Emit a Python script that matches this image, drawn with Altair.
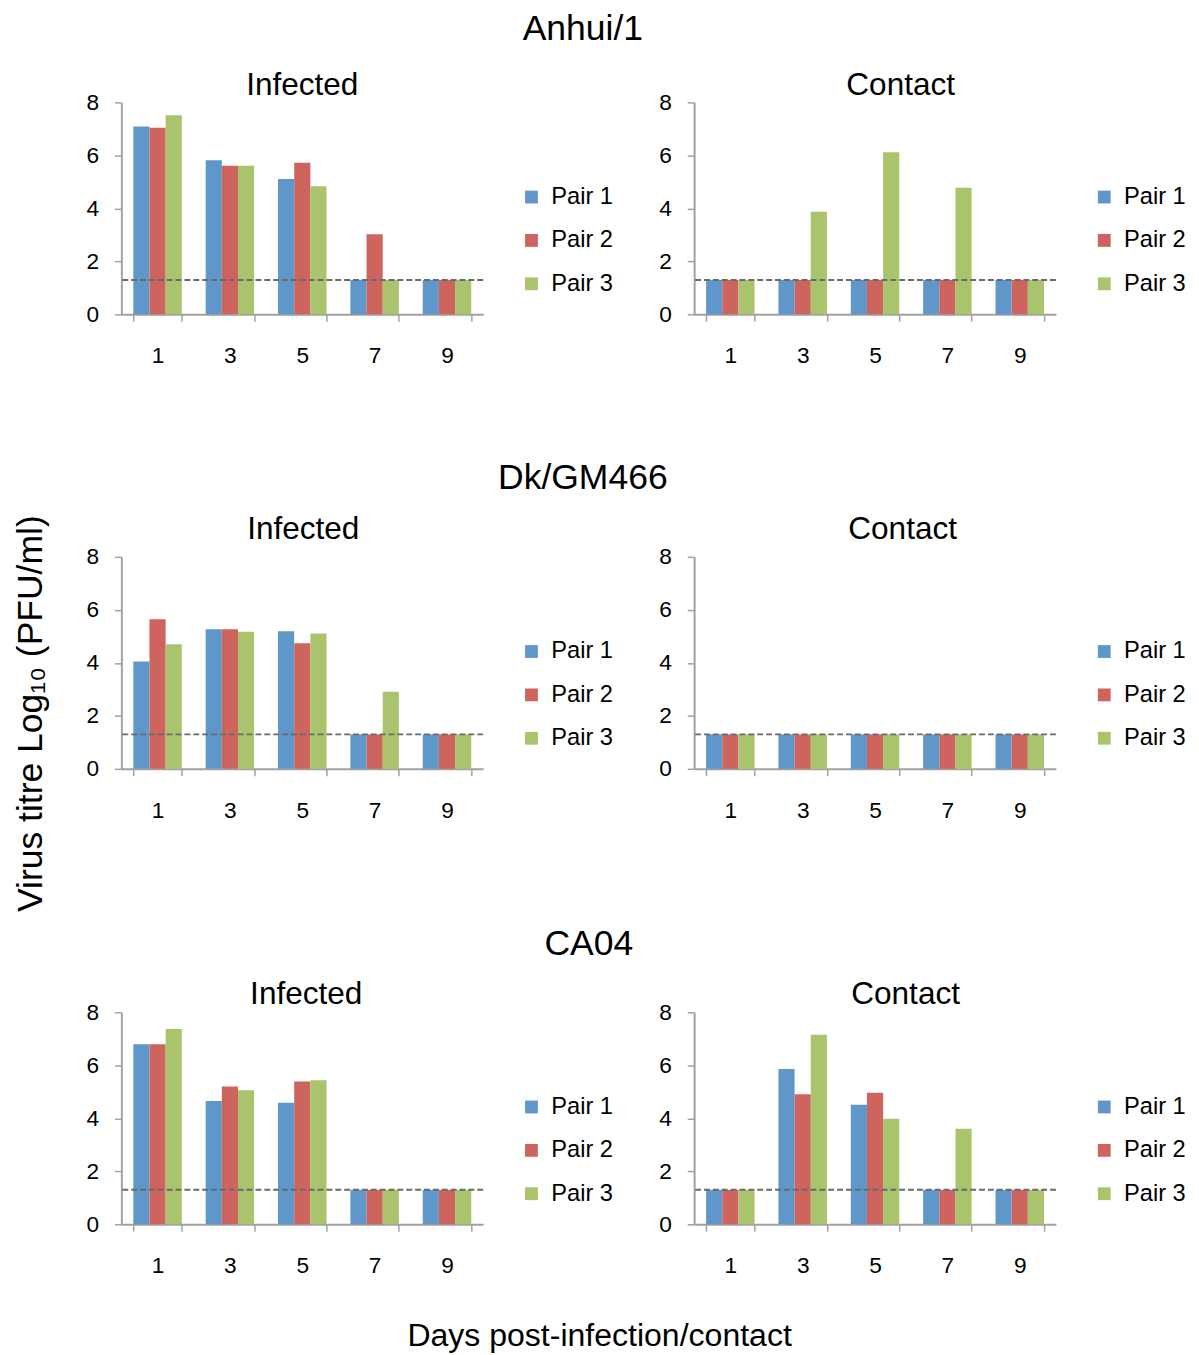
import altair as alt
import pandas as pd

days = [1, 3, 5, 7, 9]
pairs = ["Pair 1", "Pair 2", "Pair 3"]
colors = ["#6097CB", "#CE645E", "#A9C46C"]
detection_limit = 1.3

anhui_infected = {
    "Pair 1": [7.09, 5.82, 5.11, 1.3, 1.3],
    "Pair 2": [7.04, 5.61, 5.72, 3.02, 1.3],
    "Pair 3": [7.52, 5.61, 4.84, 1.3, 1.3],
}
anhui_contact = {
    "Pair 1": [1.3, 1.3, 1.3, 1.3, 1.3],
    "Pair 2": [1.3, 1.3, 1.3, 1.3, 1.3],
    "Pair 3": [1.3, 3.87, 6.12, 4.78, 1.3],
}
dk_infected = {
    "Pair 1": [4.05, 5.27, 5.19, 1.3, 1.3],
    "Pair 2": [5.65, 5.27, 4.74, 1.3, 1.3],
    "Pair 3": [4.70, 5.17, 5.11, 2.91, 1.3],
}
dk_contact = {
    "Pair 1": [1.3, 1.3, 1.3, 1.3, 1.3],
    "Pair 2": [1.3, 1.3, 1.3, 1.3, 1.3],
    "Pair 3": [1.3, 1.3, 1.3, 1.3, 1.3],
}
ca_infected = {
    "Pair 1": [6.80, 4.65, 4.59, 1.3, 1.3],
    "Pair 2": [6.80, 5.20, 5.39, 1.3, 1.3],
    "Pair 3": [7.37, 5.06, 5.44, 1.3, 1.3],
}
ca_contact = {
    "Pair 1": [1.3, 5.86, 4.51, 1.3, 1.3],
    "Pair 2": [1.3, 4.91, 4.96, 1.3, 1.3],
    "Pair 3": [1.3, 7.15, 3.98, 3.61, 1.3],
}

FONT = "Liberation Sans"
PW, PH = 367, 215


def to_df(d):
    rows = []
    for p in pairs:
        for day, v in zip(days, d[p]):
            rows.append({"day": str(day), "pair": p, "titre": v})
    return pd.DataFrame(rows)


def panel(d, title, dx, dy):
    df = to_df(d)
    bars = alt.Chart(df).mark_bar().encode(
        x=alt.X("day:N", sort=[str(x) for x in days],
                scale=alt.Scale(paddingInner=0.33, paddingOuter=0.165),
                axis=alt.Axis(title=None, labelAngle=0, tickBand="extent",
                              tickSize=7, labelPadding=24)),
        xOffset=alt.XOffset("pair:N", scale=alt.Scale(paddingInner=0, paddingOuter=0)),
        y=alt.Y("titre:Q", scale=alt.Scale(domain=[0, 8]),
                axis=alt.Axis(title=None, values=[0, 2, 4, 6, 8], grid=False,
                              tickSize=7, labelPadding=16)),
        color=alt.Color("pair:N", scale=alt.Scale(domain=pairs, range=colors),
                        legend=alt.Legend(title=None, orient="none", legendX=404, legendY=84,
                                          symbolType="square", symbolSize=169,
                                          symbolStrokeWidth=0, symbolOpacity=1,
                                          labelFontSize=24, labelFont=FONT,
                                          rowPadding=20, labelOffset=8)),
    )
    rule = alt.Chart(pd.DataFrame({"lod": [detection_limit]})).mark_rule(
        color="#6a6a6a", strokeDash=[6, 3], strokeWidth=2
    ).encode(y="lod:Q")
    return alt.layer(bars, rule).properties(
        width=PW, height=PH,
        title=alt.TitleParams(title, fontSize=32, font=FONT, fontWeight="normal",
                              anchor="middle", frame="group", offset=-10, dx=dx, dy=dy),
    ).resolve_scale(color="independent")


def row(name, inf, con, dxi, dxc, dxr, offset, dyr, dys):
    return alt.hconcat(panel(inf, "Infected", dxi, dys), panel(con, "Contact", dxc, dys),
                       spacing=46).properties(
        title=alt.TitleParams(name, fontSize=36, font=FONT, fontWeight="normal",
                              anchor="middle", offset=offset, dx=dxr, dy=dyr)
    ).resolve_scale(color="independent").resolve_legend(color="independent")


r1 = row("Anhui/1", anhui_infected, anhui_contact, 0, 26, -54, 21, 0, 0)
r2 = row("Dk/GM466", dk_infected, dk_contact, 1, 28, -54, 17, 0, -10)
r3 = row("CA04", ca_infected, ca_contact, 4, 31, -48, 27, 11, 0)

top_rows = alt.vconcat(r1, r2, spacing=94).resolve_scale(
    color="independent").resolve_legend(color="independent")

inner = alt.vconcat(top_rows, r3, spacing=106).properties(
    title=alt.TitleParams("Virus titre Log₁₀ (PFU/ml)", orient="left", anchor="middle",
                          fontSize=36, font=FONT, fontWeight="normal", offset=37, dx=-70)
).resolve_scale(color="independent").resolve_legend(color="independent")

chart = alt.vconcat(inner).properties(
    title=alt.TitleParams("Days post-infection/contact", orient="bottom", anchor="middle",
                          fontSize=32.5, font=FONT, fontWeight="normal", offset=43),
    padding={"left": 5, "top": -6, "right": 5, "bottom": 5},
).resolve_scale(color="independent").resolve_legend(color="independent").configure_view(
    stroke=None
).configure_axis(
    labelFont=FONT, labelFontSize=23, labelColor="#000000",
    domainColor="#a0a0a0", domainWidth=2, tickColor="#a0a0a0", tickWidth=1.5,
).configure_title(color="#000000")

chart.save("out.html", embed_options={"renderer": "svg", "actions": False})
